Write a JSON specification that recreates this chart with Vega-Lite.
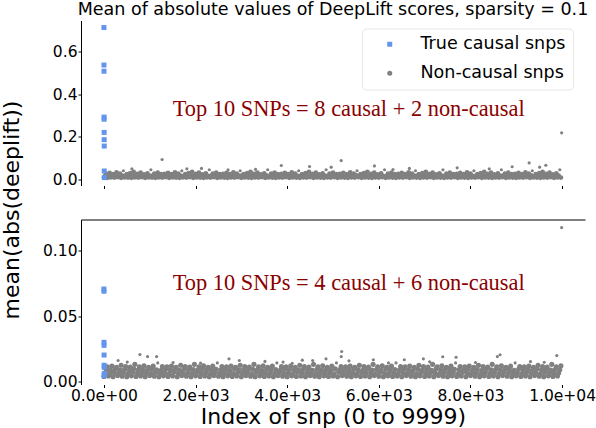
{
"$schema": "https://vega.github.io/schema/vega-lite/v6.json",
"background": "white",
"padding": {"left": 0, "top": 0.5, "right": 0, "bottom": 0},
"spacing": 34,
"bounds": "flush",
"config": {
  "view": {"stroke": null},
  "font": "DejaVu Sans",
  "axis": {"labelFont": "DejaVu Sans", "labelFontSize": 15.5, "labelColor": "black", "titleFont": "DejaVu Sans", "titleFontSize": 22, "titleFontWeight": "normal", "titleColor": "black", "domainColor": "black", "tickColor": "black", "grid": false, "tickSize": 3},
  "legend": {"labelFont": "DejaVu Sans", "labelFontSize": 17.5, "labelColor": "black", "labelLimit": 300, "symbolSize": 25, "symbolOffset": 12, "labelOffset": 22, "rowPadding": 10, "padding": 7, "strokeColor": "#e6e6e6", "cornerRadius": 4, "fillColor": "white"}
},
"resolve": {"scale": {"x": "independent", "y": "independent", "color": "independent", "shape": "independent"}, "axis": {"x": "independent", "y": "independent"}, "legend": {"color": "independent", "shape": "independent"}},
"datasets": {
  "top_c": [{"i":0,"v":0.713},{"i":1,"v":0.537},{"i":2,"v":0.508},{"i":3,"v":0.293},{"i":4,"v":0.283},{"i":5,"v":0.221},{"i":6,"v":0.187},{"i":7,"v":0.157},{"i":8,"v":0.040},{"i":9,"v":0.009}],
  "bot_c": [{"i":0,"v":0.0706},{"i":1,"v":0.0689},{"i":2,"v":0.0299},{"i":3,"v":0.0276},{"i":4,"v":0.0202},{"i":5,"v":0.0124},{"i":6,"v":0.0108},{"i":7,"v":0.0044},{"i":8,"v":0.0060},{"i":9,"v":0.0050}],
  "top_t": [{"i":1500,"v":0.3,"label":"Top 10 SNPs = 8 causal + 2 non-causal"}],
  "bot_t": [{"i":1500,"v":0.07,"label":"Top 10 SNPs = 4 causal + 6 non-causal"}],
  "top_nc": [
{"i":0,"v":0.009},{"i":25,"v":0.019},{"i":50,"v":0.027},{"i":75,"v":0.008},{"i":100,"v":0.017},{"i":125,"v":0.031},{"i":150,"v":0.010},{"i":175,"v":0.018},{"i":200,"v":0.025},{"i":225,"v":0.009},{"i":250,"v":0.020},{"i":275,"v":0.034},{"i":300,"v":0.011},{"i":325,"v":0.016},{"i":350,"v":0.028},{"i":375,"v":0.008},{"i":400,"v":0.019},{"i":425,"v":0.041},{"i":450,"v":0.010},{"i":475,"v":0.018},{"i":500,"v":0.026},
{"i":525,"v":0.009},{"i":550,"v":0.021},{"i":575,"v":0.030},{"i":600,"v":0.008},{"i":625,"v":0.017},{"i":650,"v":0.036},{"i":675,"v":0.010},{"i":700,"v":0.019},{"i":725,"v":0.027},{"i":750,"v":0.009},{"i":775,"v":0.018},{"i":800,"v":0.033},{"i":825,"v":0.011},{"i":850,"v":0.019},{"i":875,"v":0.024},{"i":900,"v":0.008},{"i":925,"v":0.017},{"i":950,"v":0.029},{"i":975,"v":0.010},{"i":1000,"v":0.018},{"i":1025,"v":0.046},
{"i":1050,"v":0.009},{"i":1075,"v":0.020},{"i":1100,"v":0.028},{"i":1125,"v":0.008},{"i":1150,"v":0.016},{"i":1175,"v":0.032},{"i":1200,"v":0.010},{"i":1225,"v":0.019},{"i":1250,"v":0.026},{"i":1275,"v":0.009},{"i":1300,"v":0.018},{"i":1325,"v":0.027},{"i":1350,"v":0.011},{"i":1375,"v":0.021},{"i":1400,"v":0.031},{"i":1425,"v":0.008},{"i":1450,"v":0.017},{"i":1475,"v":0.025},{"i":1500,"v":0.010},{"i":1525,"v":0.019},{"i":1550,"v":0.034},
{"i":1575,"v":0.009},{"i":1600,"v":0.018},{"i":1625,"v":0.028},{"i":1650,"v":0.008},{"i":1675,"v":0.019},{"i":1700,"v":0.041},{"i":1725,"v":0.010},{"i":1750,"v":0.017},{"i":1775,"v":0.026},{"i":1800,"v":0.009},{"i":1825,"v":0.018},{"i":1850,"v":0.030},{"i":1875,"v":0.011},{"i":1900,"v":0.020},{"i":1925,"v":0.036},{"i":1950,"v":0.008},{"i":1975,"v":0.016},{"i":2000,"v":0.027},{"i":2025,"v":0.010},{"i":2050,"v":0.019},{"i":2075,"v":0.033},
{"i":2100,"v":0.009},{"i":2125,"v":0.018},{"i":2150,"v":0.024},{"i":2175,"v":0.008},{"i":2200,"v":0.021},{"i":2225,"v":0.029},{"i":2250,"v":0.010},{"i":2275,"v":0.017},{"i":2300,"v":0.046},{"i":2325,"v":0.009},{"i":2350,"v":0.019},{"i":2375,"v":0.028},{"i":2400,"v":0.011},{"i":2425,"v":0.018},{"i":2450,"v":0.032},{"i":2475,"v":0.008},{"i":2500,"v":0.019},{"i":2525,"v":0.026},{"i":2550,"v":0.010},{"i":2575,"v":0.017},{"i":2600,"v":0.027},
{"i":2625,"v":0.009},{"i":2650,"v":0.018},{"i":2675,"v":0.031},{"i":2700,"v":0.008},{"i":2725,"v":0.020},{"i":2750,"v":0.025},{"i":2775,"v":0.010},{"i":2800,"v":0.016},{"i":2825,"v":0.034},{"i":2850,"v":0.009},{"i":2875,"v":0.019},{"i":2900,"v":0.028},{"i":2925,"v":0.011},{"i":2950,"v":0.018},{"i":2975,"v":0.041},{"i":3000,"v":0.008},{"i":3025,"v":0.021},{"i":3050,"v":0.026},{"i":3075,"v":0.010},{"i":3100,"v":0.017},{"i":3125,"v":0.030},
{"i":3150,"v":0.009},{"i":3175,"v":0.019},{"i":3200,"v":0.036},{"i":3225,"v":0.008},{"i":3250,"v":0.018},{"i":3275,"v":0.027},{"i":3300,"v":0.010},{"i":3325,"v":0.019},{"i":3350,"v":0.033},{"i":3375,"v":0.009},{"i":3400,"v":0.017},{"i":3425,"v":0.024},{"i":3450,"v":0.011},{"i":3475,"v":0.018},{"i":3500,"v":0.029},{"i":3525,"v":0.008},{"i":3550,"v":0.020},{"i":3575,"v":0.046},{"i":3600,"v":0.010},{"i":3625,"v":0.016},{"i":3650,"v":0.028},
{"i":3675,"v":0.009},{"i":3700,"v":0.019},{"i":3725,"v":0.032},{"i":3750,"v":0.008},{"i":3775,"v":0.018},{"i":3800,"v":0.026},{"i":3825,"v":0.010},{"i":3850,"v":0.021},{"i":3875,"v":0.027},{"i":3900,"v":0.009},{"i":3925,"v":0.017},{"i":3950,"v":0.031},{"i":3975,"v":0.011},{"i":4000,"v":0.019},{"i":4025,"v":0.025},{"i":4050,"v":0.008},{"i":4075,"v":0.018},{"i":4100,"v":0.034},{"i":4125,"v":0.010},{"i":4150,"v":0.019},{"i":4175,"v":0.028},
{"i":4200,"v":0.009},{"i":4225,"v":0.017},{"i":4250,"v":0.041},{"i":4275,"v":0.008},{"i":4300,"v":0.018},{"i":4325,"v":0.026},{"i":4350,"v":0.010},{"i":4375,"v":0.020},{"i":4400,"v":0.030},{"i":4425,"v":0.009},{"i":4450,"v":0.016},{"i":4475,"v":0.036},{"i":4500,"v":0.011},{"i":4525,"v":0.019},{"i":4550,"v":0.027},{"i":4575,"v":0.008},{"i":4600,"v":0.018},{"i":4625,"v":0.033},{"i":4650,"v":0.010},{"i":4675,"v":0.021},{"i":4700,"v":0.024},
{"i":4725,"v":0.009},{"i":4750,"v":0.017},{"i":4775,"v":0.029},{"i":4800,"v":0.008},{"i":4825,"v":0.019},{"i":4850,"v":0.046},{"i":4875,"v":0.010},{"i":4900,"v":0.018},{"i":4925,"v":0.028},{"i":4950,"v":0.009},{"i":4975,"v":0.019},{"i":5000,"v":0.032},{"i":5025,"v":0.011},{"i":5050,"v":0.017},{"i":5075,"v":0.026},{"i":5100,"v":0.008},{"i":5125,"v":0.018},{"i":5150,"v":0.027},{"i":5175,"v":0.010},{"i":5200,"v":0.020},{"i":5225,"v":0.031},
{"i":5250,"v":0.009},{"i":5275,"v":0.016},{"i":5300,"v":0.025},{"i":5325,"v":0.008},{"i":5350,"v":0.019},{"i":5375,"v":0.034},{"i":5400,"v":0.010},{"i":5425,"v":0.018},{"i":5450,"v":0.028},{"i":5475,"v":0.009},{"i":5500,"v":0.021},{"i":5525,"v":0.041},{"i":5550,"v":0.011},{"i":5575,"v":0.017},{"i":5600,"v":0.026},{"i":5625,"v":0.008},{"i":5650,"v":0.019},{"i":5675,"v":0.030},{"i":5700,"v":0.010},{"i":5725,"v":0.018},{"i":5750,"v":0.036},
{"i":5775,"v":0.009},{"i":5800,"v":0.019},{"i":5825,"v":0.027},{"i":5850,"v":0.008},{"i":5875,"v":0.017},{"i":5900,"v":0.033},{"i":5925,"v":0.010},{"i":5950,"v":0.018},{"i":5975,"v":0.024},{"i":6000,"v":0.009},{"i":6025,"v":0.020},{"i":6050,"v":0.029},{"i":6075,"v":0.011},{"i":6100,"v":0.016},{"i":6125,"v":0.046},{"i":6150,"v":0.008},{"i":6175,"v":0.019},{"i":6200,"v":0.028},{"i":6225,"v":0.010},{"i":6250,"v":0.018},{"i":6275,"v":0.032},
{"i":6300,"v":0.009},{"i":6325,"v":0.021},{"i":6350,"v":0.026},{"i":6375,"v":0.008},{"i":6400,"v":0.017},{"i":6425,"v":0.027},{"i":6450,"v":0.010},{"i":6475,"v":0.019},{"i":6500,"v":0.031},{"i":6525,"v":0.009},{"i":6550,"v":0.018},{"i":6575,"v":0.025},{"i":6600,"v":0.011},{"i":6625,"v":0.019},{"i":6650,"v":0.034},{"i":6675,"v":0.008},{"i":6700,"v":0.017},{"i":6725,"v":0.028},{"i":6750,"v":0.010},{"i":6775,"v":0.018},{"i":6800,"v":0.041},
{"i":6825,"v":0.009},{"i":6850,"v":0.020},{"i":6875,"v":0.026},{"i":6900,"v":0.008},{"i":6925,"v":0.016},{"i":6950,"v":0.030},{"i":6975,"v":0.010},{"i":7000,"v":0.019},{"i":7025,"v":0.036},{"i":7050,"v":0.009},{"i":7075,"v":0.018},{"i":7100,"v":0.027},{"i":7125,"v":0.011},{"i":7150,"v":0.021},{"i":7175,"v":0.033},{"i":7200,"v":0.008},{"i":7225,"v":0.017},{"i":7250,"v":0.024},{"i":7275,"v":0.010},{"i":7300,"v":0.019},{"i":7325,"v":0.029},
{"i":7350,"v":0.009},{"i":7375,"v":0.018},{"i":7400,"v":0.046},{"i":7425,"v":0.008},{"i":7450,"v":0.019},{"i":7475,"v":0.028},{"i":7500,"v":0.010},{"i":7525,"v":0.017},{"i":7550,"v":0.032},{"i":7575,"v":0.009},{"i":7600,"v":0.018},{"i":7625,"v":0.026},{"i":7650,"v":0.011},{"i":7675,"v":0.020},{"i":7700,"v":0.027},{"i":7725,"v":0.008},{"i":7750,"v":0.016},{"i":7775,"v":0.031},{"i":7800,"v":0.010},{"i":7825,"v":0.019},{"i":7850,"v":0.025},
{"i":7875,"v":0.009},{"i":7900,"v":0.018},{"i":7925,"v":0.034},{"i":7950,"v":0.008},{"i":7975,"v":0.021},{"i":8000,"v":0.028},{"i":8025,"v":0.010},{"i":8050,"v":0.017},{"i":8075,"v":0.041},{"i":8100,"v":0.009},{"i":8125,"v":0.019},{"i":8150,"v":0.026},{"i":8175,"v":0.011},{"i":8200,"v":0.018},{"i":8225,"v":0.030},{"i":8250,"v":0.008},{"i":8275,"v":0.019},{"i":8300,"v":0.036},{"i":8325,"v":0.010},{"i":8350,"v":0.017},{"i":8375,"v":0.027},
{"i":8400,"v":0.009},{"i":8425,"v":0.018},{"i":8450,"v":0.033},{"i":8475,"v":0.008},{"i":8500,"v":0.020},{"i":8525,"v":0.024},{"i":8550,"v":0.010},{"i":8575,"v":0.016},{"i":8600,"v":0.029},{"i":8625,"v":0.009},{"i":8650,"v":0.019},{"i":8675,"v":0.046},{"i":8700,"v":0.011},{"i":8725,"v":0.018},{"i":8750,"v":0.028},{"i":8775,"v":0.008},{"i":8800,"v":0.021},{"i":8825,"v":0.032},{"i":8850,"v":0.010},{"i":8875,"v":0.017},{"i":8900,"v":0.026},
{"i":8925,"v":0.009},{"i":8950,"v":0.019},{"i":8975,"v":0.027},{"i":9000,"v":0.008},{"i":9025,"v":0.018},{"i":9050,"v":0.031},{"i":9075,"v":0.010},{"i":9100,"v":0.019},{"i":9125,"v":0.025},{"i":9150,"v":0.009},{"i":9175,"v":0.017},{"i":9200,"v":0.034},{"i":9225,"v":0.011},{"i":9250,"v":0.018},{"i":9275,"v":0.028},{"i":9300,"v":0.008},{"i":9325,"v":0.020},{"i":9350,"v":0.041},{"i":9375,"v":0.010},{"i":9400,"v":0.016},{"i":9425,"v":0.026},
{"i":9450,"v":0.009},{"i":9475,"v":0.019},{"i":9500,"v":0.030},{"i":9525,"v":0.008},{"i":9550,"v":0.018},{"i":9575,"v":0.036},{"i":9600,"v":0.010},{"i":9625,"v":0.021},{"i":9650,"v":0.027},{"i":9675,"v":0.009},{"i":9700,"v":0.017},{"i":9725,"v":0.033},{"i":9750,"v":0.011},{"i":9775,"v":0.019},{"i":9800,"v":0.024},{"i":9825,"v":0.008},{"i":9850,"v":0.018},{"i":9875,"v":0.029},{"i":9900,"v":0.010},{"i":9925,"v":0.019},{"i":9950,"v":0.046},{"i":9975,"v":0.009},
{"i":1270,"v":0.094},{"i":5179,"v":0.089},{"i":3872,"v":0.066},{"i":4488,"v":0.061},{"i":4961,"v":0.058},{"i":5904,"v":0.064},{"i":6667,"v":0.052},{"i":9281,"v":0.078},{"i":9645,"v":0.067},{"i":9990,"v":0.219},
{"i":610,"v":0.050},{"i":1810,"v":0.050},{"i":2130,"v":0.052},{"i":2710,"v":0.045},{"i":3310,"v":0.048},{"i":6310,"v":0.047},{"i":7710,"v":0.055},{"i":8410,"v":0.050},{"i":8910,"v":0.060},{"i":9510,"v":0.058}
  ],
  "bot_nc": [
{"i":0,"v":0.0038},{"i":25,"v":0.0064},{"i":50,"v":0.0090},{"i":75,"v":0.0112},{"i":100,"v":0.0042},{"i":125,"v":0.0060},{"i":150,"v":0.0086},{"i":175,"v":0.0118},{"i":200,"v":0.0036},{"i":225,"v":0.0068},{"i":250,"v":0.0094},{"i":275,"v":0.0108},{"i":300,"v":0.0045},{"i":325,"v":0.0062},{"i":350,"v":0.0088},{"i":375,"v":0.0124},{"i":400,"v":0.0040},{"i":425,"v":0.0066},{"i":450,"v":0.0092},{"i":475,"v":0.0115},
{"i":500,"v":0.0037},{"i":525,"v":0.0059},{"i":550,"v":0.0085},{"i":575,"v":0.0110},{"i":600,"v":0.0043},{"i":625,"v":0.0070},{"i":650,"v":0.0096},{"i":675,"v":0.0131},{"i":700,"v":0.0038},{"i":725,"v":0.0063},{"i":750,"v":0.0089},{"i":775,"v":0.0113},{"i":800,"v":0.0042},{"i":825,"v":0.0065},{"i":850,"v":0.0091},{"i":875,"v":0.0120},{"i":900,"v":0.0036},{"i":925,"v":0.0064},{"i":950,"v":0.0087},{"i":975,"v":0.0109},
{"i":1000,"v":0.0045},{"i":1025,"v":0.0060},{"i":1050,"v":0.0093},{"i":1075,"v":0.0117},{"i":1100,"v":0.0040},{"i":1125,"v":0.0068},{"i":1150,"v":0.0090},{"i":1175,"v":0.0142},{"i":1200,"v":0.0037},{"i":1225,"v":0.0062},{"i":1250,"v":0.0086},{"i":1275,"v":0.0114},{"i":1300,"v":0.0043},{"i":1325,"v":0.0066},{"i":1350,"v":0.0094},{"i":1375,"v":0.0112},{"i":1400,"v":0.0038},{"i":1425,"v":0.0059},{"i":1450,"v":0.0088},{"i":1475,"v":0.0118},
{"i":1500,"v":0.0042},{"i":1525,"v":0.0070},{"i":1550,"v":0.0092},{"i":1575,"v":0.0108},{"i":1600,"v":0.0036},{"i":1625,"v":0.0063},{"i":1650,"v":0.0085},{"i":1675,"v":0.0124},{"i":1700,"v":0.0045},{"i":1725,"v":0.0065},{"i":1750,"v":0.0096},{"i":1775,"v":0.0115},{"i":1800,"v":0.0040},{"i":1825,"v":0.0064},{"i":1850,"v":0.0089},{"i":1875,"v":0.0110},{"i":1900,"v":0.0037},{"i":1925,"v":0.0060},{"i":1950,"v":0.0091},{"i":1975,"v":0.0131},
{"i":2000,"v":0.0043},{"i":2025,"v":0.0068},{"i":2050,"v":0.0087},{"i":2075,"v":0.0113},{"i":2100,"v":0.0038},{"i":2125,"v":0.0062},{"i":2150,"v":0.0093},{"i":2175,"v":0.0120},{"i":2200,"v":0.0042},{"i":2225,"v":0.0066},{"i":2250,"v":0.0090},{"i":2275,"v":0.0109},{"i":2300,"v":0.0036},{"i":2325,"v":0.0059},{"i":2350,"v":0.0086},{"i":2375,"v":0.0117},{"i":2400,"v":0.0045},{"i":2425,"v":0.0070},{"i":2450,"v":0.0094},{"i":2475,"v":0.0142},
{"i":2500,"v":0.0040},{"i":2525,"v":0.0063},{"i":2550,"v":0.0088},{"i":2575,"v":0.0114},{"i":2600,"v":0.0037},{"i":2625,"v":0.0065},{"i":2650,"v":0.0092},{"i":2675,"v":0.0112},{"i":2700,"v":0.0043},{"i":2725,"v":0.0064},{"i":2750,"v":0.0085},{"i":2775,"v":0.0118},{"i":2800,"v":0.0038},{"i":2825,"v":0.0060},{"i":2850,"v":0.0096},{"i":2875,"v":0.0108},{"i":2900,"v":0.0042},{"i":2925,"v":0.0068},{"i":2950,"v":0.0089},{"i":2975,"v":0.0124},
{"i":3000,"v":0.0036},{"i":3025,"v":0.0062},{"i":3050,"v":0.0091},{"i":3075,"v":0.0115},{"i":3100,"v":0.0045},{"i":3125,"v":0.0066},{"i":3150,"v":0.0087},{"i":3175,"v":0.0110},{"i":3200,"v":0.0040},{"i":3225,"v":0.0059},{"i":3250,"v":0.0093},{"i":3275,"v":0.0131},{"i":3300,"v":0.0037},{"i":3325,"v":0.0070},{"i":3350,"v":0.0090},{"i":3375,"v":0.0113},{"i":3400,"v":0.0043},{"i":3425,"v":0.0063},{"i":3450,"v":0.0086},{"i":3475,"v":0.0120},
{"i":3500,"v":0.0038},{"i":3525,"v":0.0065},{"i":3550,"v":0.0094},{"i":3575,"v":0.0109},{"i":3600,"v":0.0042},{"i":3625,"v":0.0064},{"i":3650,"v":0.0088},{"i":3675,"v":0.0117},{"i":3700,"v":0.0036},{"i":3725,"v":0.0060},{"i":3750,"v":0.0092},{"i":3775,"v":0.0142},{"i":3800,"v":0.0045},{"i":3825,"v":0.0068},{"i":3850,"v":0.0085},{"i":3875,"v":0.0114},{"i":3900,"v":0.0040},{"i":3925,"v":0.0062},{"i":3950,"v":0.0096},{"i":3975,"v":0.0112},
{"i":4000,"v":0.0037},{"i":4025,"v":0.0066},{"i":4050,"v":0.0089},{"i":4075,"v":0.0118},{"i":4100,"v":0.0043},{"i":4125,"v":0.0059},{"i":4150,"v":0.0091},{"i":4175,"v":0.0108},{"i":4200,"v":0.0038},{"i":4225,"v":0.0070},{"i":4250,"v":0.0087},{"i":4275,"v":0.0124},{"i":4300,"v":0.0042},{"i":4325,"v":0.0063},{"i":4350,"v":0.0093},{"i":4375,"v":0.0115},{"i":4400,"v":0.0036},{"i":4425,"v":0.0065},{"i":4450,"v":0.0090},{"i":4475,"v":0.0110},
{"i":4500,"v":0.0045},{"i":4525,"v":0.0064},{"i":4550,"v":0.0086},{"i":4575,"v":0.0131},{"i":4600,"v":0.0040},{"i":4625,"v":0.0060},{"i":4650,"v":0.0094},{"i":4675,"v":0.0113},{"i":4700,"v":0.0037},{"i":4725,"v":0.0068},{"i":4750,"v":0.0088},{"i":4775,"v":0.0120},{"i":4800,"v":0.0043},{"i":4825,"v":0.0062},{"i":4850,"v":0.0092},{"i":4875,"v":0.0109},{"i":4900,"v":0.0038},{"i":4925,"v":0.0066},{"i":4950,"v":0.0085},{"i":4975,"v":0.0117},
{"i":5000,"v":0.0042},{"i":5025,"v":0.0059},{"i":5050,"v":0.0096},{"i":5075,"v":0.0142},{"i":5100,"v":0.0036},{"i":5125,"v":0.0070},{"i":5150,"v":0.0089},{"i":5175,"v":0.0114},{"i":5200,"v":0.0045},{"i":5225,"v":0.0063},{"i":5250,"v":0.0091},{"i":5275,"v":0.0112},{"i":5300,"v":0.0040},{"i":5325,"v":0.0065},{"i":5350,"v":0.0087},{"i":5375,"v":0.0118},{"i":5400,"v":0.0037},{"i":5425,"v":0.0064},{"i":5450,"v":0.0093},{"i":5475,"v":0.0108},
{"i":5500,"v":0.0043},{"i":5525,"v":0.0060},{"i":5550,"v":0.0090},{"i":5575,"v":0.0124},{"i":5600,"v":0.0038},{"i":5625,"v":0.0068},{"i":5650,"v":0.0086},{"i":5675,"v":0.0115},{"i":5700,"v":0.0042},{"i":5725,"v":0.0062},{"i":5750,"v":0.0094},{"i":5775,"v":0.0110},{"i":5800,"v":0.0036},{"i":5825,"v":0.0066},{"i":5850,"v":0.0088},{"i":5875,"v":0.0131},{"i":5900,"v":0.0045},{"i":5925,"v":0.0059},{"i":5950,"v":0.0092},{"i":5975,"v":0.0113},
{"i":6000,"v":0.0040},{"i":6025,"v":0.0070},{"i":6050,"v":0.0085},{"i":6075,"v":0.0120},{"i":6100,"v":0.0037},{"i":6125,"v":0.0063},{"i":6150,"v":0.0096},{"i":6175,"v":0.0109},{"i":6200,"v":0.0043},{"i":6225,"v":0.0065},{"i":6250,"v":0.0089},{"i":6275,"v":0.0117},{"i":6300,"v":0.0038},{"i":6325,"v":0.0064},{"i":6350,"v":0.0091},{"i":6375,"v":0.0142},{"i":6400,"v":0.0042},{"i":6425,"v":0.0060},{"i":6450,"v":0.0087},{"i":6475,"v":0.0114},
{"i":6500,"v":0.0036},{"i":6525,"v":0.0068},{"i":6550,"v":0.0093},{"i":6575,"v":0.0112},{"i":6600,"v":0.0045},{"i":6625,"v":0.0062},{"i":6650,"v":0.0090},{"i":6675,"v":0.0118},{"i":6700,"v":0.0040},{"i":6725,"v":0.0066},{"i":6750,"v":0.0086},{"i":6775,"v":0.0108},{"i":6800,"v":0.0037},{"i":6825,"v":0.0059},{"i":6850,"v":0.0094},{"i":6875,"v":0.0124},{"i":6900,"v":0.0043},{"i":6925,"v":0.0070},{"i":6950,"v":0.0088},{"i":6975,"v":0.0115},
{"i":7000,"v":0.0038},{"i":7025,"v":0.0063},{"i":7050,"v":0.0092},{"i":7075,"v":0.0110},{"i":7100,"v":0.0042},{"i":7125,"v":0.0065},{"i":7150,"v":0.0085},{"i":7175,"v":0.0131},{"i":7200,"v":0.0036},{"i":7225,"v":0.0064},{"i":7250,"v":0.0096},{"i":7275,"v":0.0113},{"i":7300,"v":0.0045},{"i":7325,"v":0.0060},{"i":7350,"v":0.0089},{"i":7375,"v":0.0120},{"i":7400,"v":0.0040},{"i":7425,"v":0.0068},{"i":7450,"v":0.0091},{"i":7475,"v":0.0109},
{"i":7500,"v":0.0037},{"i":7525,"v":0.0062},{"i":7550,"v":0.0087},{"i":7575,"v":0.0117},{"i":7600,"v":0.0043},{"i":7625,"v":0.0066},{"i":7650,"v":0.0093},{"i":7675,"v":0.0142},{"i":7700,"v":0.0038},{"i":7725,"v":0.0059},{"i":7750,"v":0.0090},{"i":7775,"v":0.0114},{"i":7800,"v":0.0042},{"i":7825,"v":0.0070},{"i":7850,"v":0.0086},{"i":7875,"v":0.0112},{"i":7900,"v":0.0036},{"i":7925,"v":0.0063},{"i":7950,"v":0.0094},{"i":7975,"v":0.0118},
{"i":8000,"v":0.0045},{"i":8025,"v":0.0065},{"i":8050,"v":0.0088},{"i":8075,"v":0.0108},{"i":8100,"v":0.0040},{"i":8125,"v":0.0064},{"i":8150,"v":0.0092},{"i":8175,"v":0.0124},{"i":8200,"v":0.0037},{"i":8225,"v":0.0060},{"i":8250,"v":0.0085},{"i":8275,"v":0.0115},{"i":8300,"v":0.0043},{"i":8325,"v":0.0068},{"i":8350,"v":0.0096},{"i":8375,"v":0.0110},{"i":8400,"v":0.0038},{"i":8425,"v":0.0062},{"i":8450,"v":0.0089},{"i":8475,"v":0.0131},
{"i":8500,"v":0.0042},{"i":8525,"v":0.0066},{"i":8550,"v":0.0091},{"i":8575,"v":0.0113},{"i":8600,"v":0.0036},{"i":8625,"v":0.0059},{"i":8650,"v":0.0087},{"i":8675,"v":0.0120},{"i":8700,"v":0.0045},{"i":8725,"v":0.0070},{"i":8750,"v":0.0093},{"i":8775,"v":0.0109},{"i":8800,"v":0.0040},{"i":8825,"v":0.0063},{"i":8850,"v":0.0090},{"i":8875,"v":0.0117},{"i":8900,"v":0.0037},{"i":8925,"v":0.0065},{"i":8950,"v":0.0086},{"i":8975,"v":0.0142},
{"i":9000,"v":0.0043},{"i":9025,"v":0.0064},{"i":9050,"v":0.0094},{"i":9075,"v":0.0114},{"i":9100,"v":0.0038},{"i":9125,"v":0.0060},{"i":9150,"v":0.0088},{"i":9175,"v":0.0112},{"i":9200,"v":0.0042},{"i":9225,"v":0.0068},{"i":9250,"v":0.0092},{"i":9275,"v":0.0118},{"i":9300,"v":0.0036},{"i":9325,"v":0.0062},{"i":9350,"v":0.0085},{"i":9375,"v":0.0108},{"i":9400,"v":0.0045},{"i":9425,"v":0.0066},{"i":9450,"v":0.0096},{"i":9475,"v":0.0124},
{"i":9500,"v":0.0040},{"i":9525,"v":0.0059},{"i":9550,"v":0.0089},{"i":9575,"v":0.0115},{"i":9600,"v":0.0037},{"i":9625,"v":0.0070},{"i":9650,"v":0.0091},{"i":9675,"v":0.0110},{"i":9700,"v":0.0043},{"i":9725,"v":0.0063},{"i":9750,"v":0.0087},{"i":9775,"v":0.0131},{"i":9800,"v":0.0038},{"i":9825,"v":0.0065},{"i":9850,"v":0.0093},{"i":9875,"v":0.0113},{"i":9900,"v":0.0042},{"i":9925,"v":0.0064},{"i":9950,"v":0.0090},{"i":9975,"v":0.0120},
{"i":786,"v":0.0206},{"i":953,"v":0.0190},{"i":1150,"v":0.0190},{"i":310,"v":0.0160},{"i":2730,"v":0.0173},{"i":2955,"v":0.0160},{"i":3515,"v":0.0153},{"i":4330,"v":0.0163},{"i":4556,"v":0.0160},{"i":4847,"v":0.0173},{"i":5190,"v":0.0229},{"i":5180,"v":0.0190},{"i":5349,"v":0.0158},{"i":5880,"v":0.0166},{"i":6557,"v":0.0166},{"i":6972,"v":0.0173},{"i":7395,"v":0.0189},{"i":7686,"v":0.0185},{"i":8588,"v":0.0190},{"i":8646,"v":0.0204},{"i":9885,"v":0.0198},{"i":9990,"v":0.1175},
{"i":510,"v":0.0148},{"i":1510,"v":0.0145},{"i":2110,"v":0.0140},{"i":3910,"v":0.0148},{"i":4110,"v":0.0139},{"i":6210,"v":0.0142},{"i":7110,"v":0.0150},{"i":8110,"v":0.0145},{"i":9310,"v":0.0152},{"i":9610,"v":0.0147}
  ]
},
"vconcat": [
  {
    "width": 504,
    "height": 165,
    "title": {"text": "Mean of absolute values of DeepLift scores, sparsity = 0.1", "font": "DejaVu Sans", "fontSize": 17.5, "fontWeight": "normal", "color": "black", "anchor": "middle", "frame": "group", "offset": 2},
    "encoding": {
      "x": {"field": "i", "type": "quantitative", "scale": {"domain": [-500, 10500], "nice": false, "zero": false}, "axis": {"title": null, "labels": false, "domain": false, "ticks": true, "tickSize": 3, "values": [0, 2000, 4000, 6000, 8000, 10000]}},
      "y": {"field": "v", "type": "quantitative", "scale": {"domain": [-0.028, 0.746], "nice": false, "zero": false}, "axis": {"title": "mean(abs(deeplift))", "values": [0, 0.2, 0.4, 0.6], "format": ".1f", "labelPadding": 1, "titleAngle": -90, "titleX": -63, "titleY": 189, "titleBaseline": "alphabetic", "titleAlign": "center"}}
    },
    "layer": [
      {"data": {"name": "top_nc"}, "transform": [{"filter": "datum.v < 0.04"}], "mark": {"type": "point", "filled": true, "size": 22, "opacity": 1, "strokeWidth": 0},
       "encoding": {
         "color": {"datum": "Non-causal snps", "type": "nominal", "scale": {"domain": ["True causal snps", "Non-causal snps"], "range": ["#6495ED", "#808080"]},
           "legend": {"title": null, "orient": "none", "legendX": 281, "legendY": 8}},
         "shape": {"datum": "Non-causal snps", "type": "nominal", "scale": {"domain": ["True causal snps", "Non-causal snps"], "range": ["square", "circle"]},
           "legend": {"title": null, "orient": "none", "legendX": 281, "legendY": 8}}
       }},
      {"data": {"name": "top_nc"}, "transform": [{"filter": "datum.v >= 0.04"}], "mark": {"type": "point", "filled": true, "size": 10, "opacity": 1, "strokeWidth": 0},
       "encoding": {
         "color": {"datum": "Non-causal snps", "type": "nominal"},
         "shape": {"datum": "Non-causal snps", "type": "nominal"}
       }},
      {"data": {"name": "top_c"}, "mark": {"type": "point", "filled": true, "size": 25, "opacity": 1, "strokeWidth": 0},
       "encoding": {
         "color": {"datum": "True causal snps", "type": "nominal"},
         "shape": {"datum": "True causal snps", "type": "nominal"}
       }},
      {"data": {"name": "top_t"}, "mark": {"type": "text", "font": "Liberation Serif", "fontSize": 22.4, "color": "#8b0000", "align": "left", "baseline": "alphabetic"},
       "encoding": {"text": {"field": "label"}}}
    ]
  },
  {
    "width": 504,
    "height": 165,
    "encoding": {
      "y": {"field": "v", "type": "quantitative", "scale": {"domain": [-0.0023, 0.1237], "nice": false, "zero": false}, "axis": {"title": null, "values": [0, 0.05, 0.1], "format": ".2f", "labelPadding": 1}}
    },
    "layer": [
      {"data": {"name": "bot_nc"}, "transform": [{"filter": "datum.v < 0.0135"}], "mark": {"type": "point", "filled": true, "size": 26, "opacity": 1, "strokeWidth": 0, "color": "#808080"},
       "encoding": {"x": {"field": "i", "type": "quantitative", "scale": {"domain": [-500, 10500], "nice": false, "zero": false}, "axis": {"orient": "bottom", "title": "Index of snp (0 to 9999)", "domain": false, "tickSize": 3, "labelPadding": 1, "values": [0, 2000, 4000, 6000, 8000, 10000], "labelExpr": "datum.value == 0 ? '0.0e+00' : (datum.value >= 10000 ? '1.0e+04' : format(datum.value / 1000, '.1f') + 'e+03')", "titleY": 38.5, "titleBaseline": "alphabetic"}}}},
      {"data": {"name": "bot_nc"}, "transform": [{"filter": "datum.v >= 0.0135"}], "mark": {"type": "point", "filled": true, "size": 10, "opacity": 1, "strokeWidth": 0, "color": "#808080"},
       "encoding": {"x": {"field": "i", "type": "quantitative", "axis": null}}},
      {"data": {"name": "bot_c"}, "mark": {"type": "point", "shape": "square", "filled": true, "size": 25, "opacity": 1, "strokeWidth": 0, "color": "#6495ED"},
       "encoding": {"x": {"field": "i", "type": "quantitative", "axis": {"orient": "top", "title": null, "labels": false, "ticks": false, "domain": true}}}},
      {"data": {"name": "bot_t"}, "mark": {"type": "text", "font": "Liberation Serif", "fontSize": 22.4, "color": "#8b0000", "align": "left", "baseline": "alphabetic"},
       "encoding": {"x": {"field": "i", "type": "quantitative", "axis": null}, "text": {"field": "label"}}}
    ],
    "resolve": {"axis": {"x": "independent"}}
  }
]
}
